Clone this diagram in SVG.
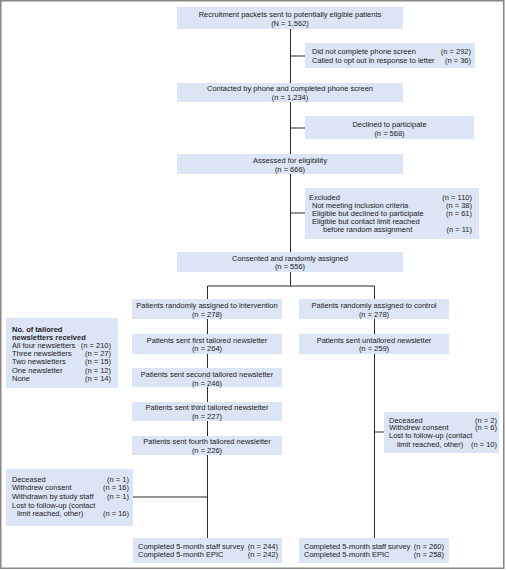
<svg xmlns="http://www.w3.org/2000/svg" width="506" height="570" viewBox="0 0 506 570">
<style>
.bx{fill:#dbe5f5;stroke:none}
text{font-family:"Liberation Sans",Arial,sans-serif;font-size:7.5px;fill:#222}
.c{text-anchor:middle}
.r{text-anchor:end}
.b{font-weight:bold}
.ln{stroke:#2a2a2a;stroke-width:1;fill:none}
</style>
<rect x="0.75" y="0.75" width="503" height="567.5" fill="#fff" stroke="#888" stroke-width="1.5"/>
<g id="connectors">
<path class="ln" d="M290.5,29 V286"/>
<path class="ln" d="M290.5,56 H305"/>
<path class="ln" d="M290.5,128 H305"/>
<path class="ln" d="M290.5,213 H305"/>
<path class="ln" d="M207.5,538 V286 H374.5 V538"/>
<path class="ln" d="M374.5,432 H384"/>
<path class="ln" d="M133,497 H207.5"/>
</g>
<g id="n1"><rect class="bx" x="177" y="7" width="226" height="22"/>
<text class="c" x="290" y="16.7">Recruitment packets sent to potentially eligible patients</text>
<text class="c" x="290" y="25.7">(N = 1,562)</text></g>
<g id="x1"><rect class="bx" x="305" y="43" width="170" height="25"/>
<text x="312" y="54.4">Did not complete phone screen</text><text class="r" x="471" y="54.4">(n = 292)</text>
<text x="312" y="63">Called to opt out in response to letter</text><text class="r" x="471" y="63">(n = 36)</text></g>
<g id="n2"><rect class="bx" x="177" y="83" width="226" height="19"/>
<text class="c" x="290" y="91.3">Contacted by phone and completed phone screen</text>
<text class="c" x="290" y="99.7">(n = 1,234)</text></g>
<g id="x2"><rect class="bx" x="305" y="116" width="169" height="23"/>
<text class="c" x="389.5" y="126.7">Declined to participate</text>
<text class="c" x="389.5" y="135.8">(n = 568)</text></g>
<g id="n3"><rect class="bx" x="177" y="154" width="226" height="20"/>
<text class="c" x="290" y="162.7">Assessed for eligibility</text>
<text class="c" x="290" y="171.7">(n = 666)</text></g>
<g id="x3"><rect class="bx" x="305" y="188" width="174" height="51"/>
<text x="309" y="199.7">Excluded</text><text class="r" x="472" y="199.7">(n = 110)</text>
<text x="312" y="207.7">Not meeting inclusion criteria</text><text class="r" x="472" y="207.7">(n = 38)</text>
<text x="312" y="215.7">Eligible but declined to participate</text><text class="r" x="472" y="215.7">(n = 61)</text>
<text x="312" y="223.7">Eligible but contact limit reached</text>
<text x="323" y="231.7">before random assignment</text><text class="r" x="472" y="231.7">(n = 11)</text></g>
<g id="n4"><rect class="bx" x="177" y="252" width="226" height="20"/>
<text class="c" x="290" y="260.7">Consented and randomly assigned</text>
<text class="c" x="290" y="268.7">(n = 556)</text></g>
<g id="i1"><rect class="bx" x="132" y="299" width="150" height="20"/>
<text class="c" x="207" y="307.7">Patients randomly assigned to intervention</text>
<text class="c" x="207" y="316.7">(n = 278)</text></g>
<g id="c1"><rect class="bx" x="299" y="299" width="150" height="20"/>
<text class="c" x="374" y="307.7">Patients randomly assigned to control</text>
<text class="c" x="374" y="316.7">(n = 278)</text></g>
<g id="i2"><rect class="bx" x="132" y="334" width="150" height="20"/>
<text class="c" x="207" y="342.7">Patients sent first tailored newsletter</text>
<text class="c" x="207" y="350.7">(n = 264)</text></g>
<g id="c2"><rect class="bx" x="299" y="334" width="150" height="20"/>
<text class="c" x="374" y="342.7">Patients sent untailored newsletter</text>
<text class="c" x="374" y="350.7">(n = 259)</text></g>
<g id="i3"><rect class="bx" x="132" y="368" width="150" height="19"/>
<text class="c" x="207" y="376.7">Patients sent second tailored newsletter</text>
<text class="c" x="207" y="385.5">(n = 246)</text></g>
<g id="i4"><rect class="bx" x="132" y="402" width="150" height="19"/>
<text class="c" x="207" y="409.8">Patients sent third tailored newsletter</text>
<text class="c" x="207" y="418.7">(n = 227)</text></g>
<g id="i5"><rect class="bx" x="132" y="436" width="150" height="19"/>
<text class="c" x="207" y="443.8">Patients sent fourth tailored newsletter</text>
<text class="c" x="207" y="452.7">(n = 226)</text></g>
<g id="legend"><rect class="bx" x="6" y="318" width="112" height="70"/>
<text class="b" x="12" y="331.7">No. of tailored</text>
<text class="b" x="12" y="339.7">newsletters received</text>
<text x="12" y="347.7">All four newsletters</text><text class="r" x="111" y="347.7">(n = 210)</text>
<text x="12" y="355.9">Three newsletters</text><text class="r" x="111" y="355.9">(n = 27)</text>
<text x="12" y="364.2">Two newsletters</text><text class="r" x="111" y="364.2">(n = 15)</text>
<text x="12" y="372.5">One newsletter</text><text class="r" x="111" y="372.5">(n = 12)</text>
<text x="12" y="380.8">None</text><text class="r" x="111" y="380.8">(n = 14)</text></g>
<g id="cx"><rect class="bx" x="384" y="412" width="115" height="41"/>
<text x="389" y="422.7">Deceased</text><text class="r" x="497" y="422.7">(n = 2)</text>
<text x="389" y="430.2">Withdrew consent</text><text class="r" x="497" y="430.2">(n = 6)</text>
<text x="389" y="438.4">Lost to follow-up (contact</text>
<text x="397" y="446.7">limit reached, other)</text><text class="r" x="497" y="446.7">(n = 10)</text></g>
<g id="ix"><rect class="bx" x="6" y="469" width="127" height="57"/>
<text x="12" y="481.7">Deceased</text><text class="r" x="129" y="481.7">(n = 1)</text>
<text x="12" y="490.4">Withdrew consent</text><text class="r" x="129" y="490.4">(n = 16)</text>
<text x="12" y="499">Withdrawn by study staff</text><text class="r" x="129" y="499">(n = 1)</text>
<text x="12" y="507.7">Lost to follow-up (contact</text>
<text x="17" y="516.4">limit reached, other)</text><text class="r" x="129" y="516.4">(n = 16)</text></g>
<g id="i6"><rect class="bx" x="133" y="538" width="149" height="25"/>
<text x="138" y="548.7">Completed 5-month staff survey</text><text class="r" x="278" y="548.7">(n = 244)</text>
<text x="138" y="556.7">Completed 5-month EPIC</text><text class="r" x="278" y="556.7">(n = 242)</text></g>
<g id="c6"><rect class="bx" x="299" y="538" width="150" height="25"/>
<text x="304" y="548.7">Completed 5-month staff survey</text><text class="r" x="444" y="548.7">(n = 260)</text>
<text x="304" y="556.7">Completed 5-month EPIC</text><text class="r" x="444" y="556.7">(n = 258)</text></g>
</svg>
